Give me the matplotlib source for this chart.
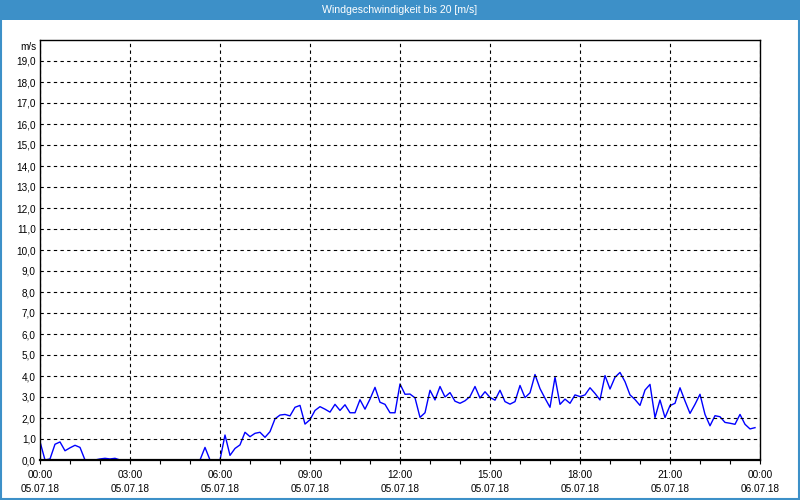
import numpy as np
import matplotlib
matplotlib.use("Agg")
import matplotlib.pyplot as plt
import matplotlib.patches as patches

# wind speed in m/s, one value every 10 minutes from 05.07.18 00:00
wind = [
    0.87, 0.0, 0.05, 0.75, 0.86, 0.44, 0.58, 0.7, 0.6, 0.0,
    0.0, 0.0, 0.05, 0.08, 0.05, 0.08, 0.0, 0.0, 0.0, 0.0,
    0.0, 0.0, 0.0, 0.0, 0.0, 0.0, 0.0, 0.0, 0.0, 0.0,
    0.0, 0.0, 0.0, 0.6, 0.0, 0.0, 0.0, 1.19, 0.22, 0.55,
    0.72, 1.32, 1.11, 1.27, 1.32, 1.08, 1.35, 1.96, 2.14, 2.17,
    2.1, 2.51, 2.6, 1.71, 1.92, 2.36, 2.54, 2.42, 2.28, 2.65,
    2.36, 2.63, 2.25, 2.25, 2.87, 2.42, 2.9, 3.46, 2.75, 2.65,
    2.25, 2.25, 3.62, 3.13, 3.14, 2.96, 2.03, 2.25, 3.32, 2.86,
    3.5, 3.0, 3.21, 2.8, 2.7, 2.82, 3.02, 3.5, 2.95, 3.25,
    2.98, 2.85, 3.32, 2.78, 2.66, 2.78, 3.55, 2.97, 3.2, 4.07,
    3.4, 2.94, 2.51, 3.94, 2.65, 2.9, 2.7, 3.1, 3.02, 3.1,
    3.44, 3.17, 2.86, 4.02, 3.38, 3.94, 4.17, 3.73, 3.1, 2.88,
    2.6, 3.33, 3.6, 2.02, 2.86, 2.02, 2.59, 2.7, 3.44, 2.81,
    2.22, 2.65, 3.13, 2.17, 1.63, 2.11, 2.06, 1.79, 1.75, 1.7,
    2.17, 1.7, 1.48, 1.54,
]
tick_hours = [0, 3, 6, 9, 12, 15, 18, 21, 24]
tick_times = ["00:00", "03:00", "06:00", "09:00", "12:00", "15:00", "18:00", "21:00", "00:00"]
tick_dates = ["05.07.18"] * 8 + ["06.07.18"]
y_ticks = list(range(0, 20))

title = "Windgeschwindigkeit bis 20 [m/s]"
blue_bar = "#3d90c8"
font = "Liberation Sans"

hours = np.arange(len(wind)) / 6.0

fig = plt.figure(figsize=(8, 5), dpi=100)
fig.patch.set_facecolor("white")

# title bar and window border
fig.patches.append(patches.Rectangle((0, 0.96), 1, 0.04, transform=fig.transFigure,
                                     facecolor=blue_bar, edgecolor="none", zorder=0))
fig.patches.append(patches.Rectangle((0.0012, 0.002), 0.9976, 0.996, transform=fig.transFigure,
                                     facecolor="none", edgecolor=blue_bar, linewidth=1.5, zorder=1))
fig.text(0.5, 0.98, title, color="white", ha="center", va="center",
         fontsize=7.6, family=font)

ax = fig.add_axes([0.05, 0.08, 0.90, 0.84])
ax.plot(hours, wind, color="#0000ff", linewidth=1.0, zorder=1.5)

ax.set_xlim(0, 24)
ax.set_ylim(0, 20)

ax.set_yticks(y_ticks)
ax.set_yticklabels([f"{v},0" for v in y_ticks], fontsize=7.2, family=font)
ax.tick_params(axis="y", length=0, pad=3)

ax.set_xticks(tick_hours)
ax.set_xticklabels([f"{t}\n{d}" for t, d in zip(tick_times, tick_dates)],
                   fontsize=7.2, family=font, linespacing=1.45)
ax.set_xticks(range(0, 25), minor=True)
ax.tick_params(axis="x", which="both", direction="out", length=3, width=0.8, pad=4.5)

ax.yaxis.grid(True, color="black", linestyle=(0, (3, 3)), linewidth=0.8)
ax.xaxis.grid(True, color="black", linestyle=(0, (3, 3)), linewidth=0.8)
for s in ax.spines.values():
    s.set_color("black")
    s.set_linewidth(1.0)
ax.spines["bottom"].set_linewidth(1.6)

ax.text(-0.005, 0.995, "m/s", transform=ax.transAxes, ha="right", va="top",
        fontsize=7.2, family=font)

fig.savefig("out.png", dpi=100)
